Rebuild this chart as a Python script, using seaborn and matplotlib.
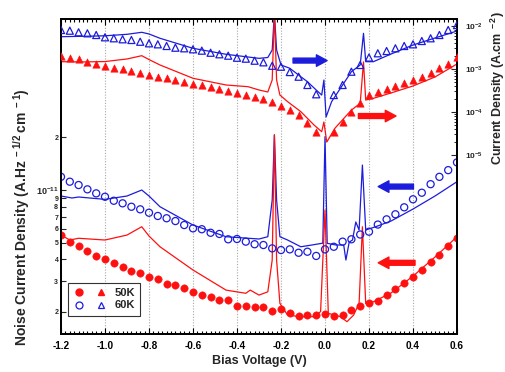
import numpy as np
import pandas as pd
import matplotlib
matplotlib.use("Agg")
import matplotlib.pyplot as plt
import seaborn as sns
from matplotlib.ticker import FixedLocator, NullLocator, FixedFormatter, MultipleLocator, FormatStrFormatter
from matplotlib.legend_handler import HandlerTuple
from matplotlib.lines import Line2D

# ---------------- data ----------------
# marker voltages (noise)
V_noise = [-1.20, -1.16, -1.12, -1.08, -1.04, -1.00, -0.96, -0.92, -0.88, -0.84,
           -0.80, -0.76, -0.72, -0.68, -0.64, -0.60, -0.56, -0.52, -0.48, -0.44,
           -0.40, -0.36, -0.32, -0.28, -0.24, -0.20, -0.16, -0.12, -0.08, -0.04,
           0.00, 0.04, 0.08, 0.12, 0.16, 0.20, 0.24, 0.28, 0.32, 0.36,
           0.40, 0.44, 0.48, 0.52, 0.56, 0.60]
# noise current density, units of 1e-12 A Hz^-1/2 cm^-1
noise_50K = [5.52, 5.06, 4.78, 4.47, 4.19, 4.04, 3.83, 3.62, 3.45, 3.33,
             3.17, 3.08, 2.90, 2.86, 2.75, 2.59, 2.50, 2.44, 2.34, 2.34,
             2.16, 2.16, 2.14, 2.14, 2.03, 2.08, 1.965, 1.90, 1.92, 1.92,
             1.96, 1.90, 1.92, 2.05, 2.16, 2.24, 2.32, 2.50, 2.71, 2.92,
             3.19, 3.48, 3.88, 4.24, 4.78, 5.29]
noise_60K = [11.9, 11.16, 10.68, 10.09, 9.57, 9.15, 8.68, 8.39, 8.02, 7.75,
             7.41, 7.10, 6.89, 6.64, 6.30, 6.03, 5.96, 5.69, 5.60, 5.22,
             5.24, 5.06, 4.89, 4.84, 4.63, 4.53, 4.57, 4.37, 4.43, 4.19,
             4.57, 4.73, 5.06, 5.22, 5.56, 5.77, 6.34, 6.79, 7.26, 7.96,
             8.85, 9.65, 10.8, 11.9, 13.0, 14.4]

# marker voltages (current density)
V_cur = [-1.20, -1.16, -1.12, -1.08, -1.04, -1.00, -0.96, -0.92, -0.88, -0.84,
         -0.80, -0.76, -0.72, -0.68, -0.64, -0.60, -0.56, -0.52, -0.48, -0.44,
         -0.40, -0.36, -0.32, -0.28, -0.24, -0.20, -0.16, -0.12, -0.08, -0.04,
         0.04, 0.08, 0.12, 0.16, 0.20, 0.24, 0.28, 0.32, 0.36, 0.40,
         0.44, 0.48, 0.52, 0.56, 0.60]
# current density, units of 1e-3 A cm^-2
cur_50K = [2.04, 1.83, 1.68, 1.48, 1.29, 1.19, 1.07, 1.00, 0.898, 0.794,
           0.724, 0.652, 0.608, 0.555, 0.507, 0.455, 0.425, 0.381, 0.343, 0.308,
           0.272, 0.248, 0.227, 0.200, 0.168, 0.140, 0.111, 0.085, 0.0546, 0.0348,
           0.0348, 0.0595, 0.102, 0.159, 0.248, 0.297, 0.343, 0.403, 0.465, 0.555,
           0.662, 0.794, 1.04, 1.29, 1.93]
cur_60K = [8.07, 7.78, 7.14, 6.76, 6.18, 5.46, 5.18, 4.91, 4.73, 4.31,
           3.96, 3.75, 3.43, 3.13, 3.03, 2.87, 2.67, 2.39, 2.20, 2.04,
           1.83, 1.74, 1.56, 1.43, 1.19, 1.13, 0.85, 0.662, 0.425, 0.258,
           0.248, 0.425, 0.865, 1.24, 1.85, 2.32, 2.62, 3.03, 3.43, 3.75,
           4.48, 5.18, 6.18, 8.07, 10.5]

# measured curves (lines)
curline_60K_V = [-1.2, -1.1, -1.0, -0.9, -0.833, -0.8, -0.75, -0.6, -0.45, -0.3,
                 -0.26, -0.24, -0.23, -0.22, -0.20, -0.16, -0.12, -0.08, -0.04, -0.015,
                 -0.005, 0.005, 0.03, 0.075, 0.12, 0.16, 0.175, 0.185, 0.22, 0.3,
                 0.4, 0.5, 0.6]
curline_60K = [5.64, 5.76, 5.92, 6.41, 7.14, 6.52, 5.18, 3.03, 2.20, 1.77,
               1.85, 2.77, 20.0, 2.77, 1.24, 1.04, 0.724, 0.507, 0.325, 0.248,
               0.555, 0.0765, 0.174, 0.388, 0.865, 1.24, 6.76, 1.48, 1.48, 2.23,
               3.61, 5.26, 7.65]
curline_50K_V = [-1.2, -1.1, -1.0, -0.9, -0.833, -0.8, -0.75, -0.6, -0.45, -0.35,
                 -0.3, -0.26, -0.24, -0.23, -0.22, -0.205, -0.17, -0.11, -0.05, -0.015,
                 -0.005, 0.008, 0.045, 0.12, 0.16, 0.175, 0.185, 0.22, 0.3, 0.4,
                 0.5, 0.6]
curline_50K = [1.48, 1.46, 1.49, 1.71, 2.04, 1.66, 1.24, 0.608, 0.425, 0.388,
               0.325, 0.292, 0.555, 20.0, 0.555, 0.248, 0.174, 0.102, 0.0499, 0.0348,
               0.0585, 0.020, 0.0418, 0.111, 0.159, 1.46, 0.190, 0.208, 0.277, 0.403,
               0.652, 1.31]
noiseline_60K_V = [-1.2, -1.15, -1.12, -1.0, -0.9, -0.833, -0.8, -0.75, -0.6, -0.45,
                   -0.3, -0.26, -0.24, -0.23, -0.22, -0.205, -0.17, -0.11, -0.06, -0.01,
                   0.0, 0.01, 0.05, 0.085, 0.095, 0.11, 0.125, 0.14, 0.155, 0.17,
                   0.185, 0.23, 0.3, 0.4, 0.5, 0.6]
noiseline_60K = [9.24, 9.0, 9.12, 8.84, 9.24, 10.0, 9.24, 8.02, 6.30, 5.40,
                 5.24, 5.40, 8.76, 20.7, 8.76, 5.40, 5.17, 4.73, 4.84, 4.96,
                 20.2, 4.95, 4.84, 4.84, 3.97, 5.03, 5.17, 6.56, 5.90, 13.9,
                 5.90, 6.16, 6.64, 7.78, 9.24, 11.16]
noiseline_50K_V = [-1.2, -1.16, -1.12, -1.0, -0.9, -0.833, -0.8, -0.75, -0.6, -0.45,
                   -0.36, -0.34, -0.3, -0.26, -0.24, -0.23, -0.22, -0.205, -0.17, -0.11,
                   -0.05, -0.02, 0.0, 0.015, 0.07, 0.1, 0.13, 0.155, 0.17, 0.185,
                   0.22, 0.3, 0.4, 0.5, 0.6]
noiseline_50K = [5.52, 5.17, 5.29, 5.17, 5.52, 6.16, 5.45, 4.73, 3.48, 2.67,
                 2.56, 2.67, 2.50, 2.61, 3.97, 20.7, 3.97, 2.24, 1.92, 1.88,
                 1.88, 2.01, 7.68, 1.965, 1.88, 1.76, 1.92, 2.24, 6.16, 2.24,
                 2.29, 2.57, 3.21, 4.13, 5.40]

x_ticks = [-1.2, -1.0, -0.8, -0.6, -0.4, -0.2, 0.0, 0.2, 0.4, 0.6]
left_ticks = [2e-12, 3e-12, 4e-12, 5e-12, 6e-12, 7e-12, 8e-12, 9e-12, 1e-11, 2e-11]
left_labels = ['2', '3', '4', '5', '6', '7', '8', '9', r'$10^{-11}$', '2']
right_ticks = [1e-5, 1e-4, 1e-3, 1e-2]
right_labels = [r'$10^{-5}$', r'$10^{-4}$', r'$10^{-3}$', r'$10^{-2}$']
legend_labels = ['50K', '60K']

# ---------------- style ----------------
sns.set_style("white")
plt.rcParams['font.family'] = ['Liberation Sans', 'DejaVu Sans']
plt.rcParams['font.weight'] = 'bold'
plt.rcParams['axes.labelweight'] = 'bold'
plt.rcParams['axes.unicode_minus'] = False
plt.rcParams['mathtext.fontset'] = 'custom'
plt.rcParams['mathtext.rm'] = 'Liberation Sans:bold'
plt.rcParams['mathtext.bf'] = 'Liberation Sans:bold'
plt.rcParams['mathtext.it'] = 'Liberation Sans:bold'
plt.rcParams['mathtext.default'] = 'bf'

RED = '#ff1010'
BLUE = '#1c1cdc'

fig = plt.figure(figsize=(5.06, 3.72), dpi=100)
ax = fig.add_axes([61 / 506, 1 - 334 / 372, 396 / 506, 315 / 372])
ax2 = ax.twinx()

e12 = 1e-12
e3 = 1e-3
df_noise = pd.DataFrame({'V': V_noise,
                         'n50': np.array(noise_50K) * e12,
                         'n60': np.array(noise_60K) * e12})
df_cur = pd.DataFrame({'V': V_cur,
                       'j50': np.array(cur_50K) * e3,
                       'j60': np.array(cur_60K) * e3})
df_nl50 = pd.DataFrame({'V': noiseline_50K_V, 'y': np.array(noiseline_50K) * e12})
df_nl60 = pd.DataFrame({'V': noiseline_60K_V, 'y': np.array(noiseline_60K) * e12})
df_jl50 = pd.DataFrame({'V': curline_50K_V, 'y': np.array(curline_50K) * e3})
df_jl60 = pd.DataFrame({'V': curline_60K_V, 'y': np.array(curline_60K) * e3})

# noise (left axis)
sns.lineplot(data=df_nl60, x='V', y='y', ax=ax, color=BLUE, lw=0.9, estimator=None, sort=False)
sns.lineplot(data=df_nl50, x='V', y='y', ax=ax, color=RED, lw=0.9, estimator=None, sort=False)
sns.scatterplot(data=df_noise, x='V', y='n60', ax=ax, marker='o', s=26,
                facecolors='none', edgecolor=BLUE, linewidth=0.9, zorder=3)
sns.scatterplot(data=df_noise, x='V', y='n50', ax=ax, marker='o', s=28,
                color=RED, edgecolor=RED, linewidth=0.4, zorder=3)

# current density (right axis)
sns.lineplot(data=df_jl60, x='V', y='y', ax=ax2, color=BLUE, lw=0.9, estimator=None, sort=False)
sns.lineplot(data=df_jl50, x='V', y='y', ax=ax2, color=RED, lw=0.9, estimator=None, sort=False)
sns.scatterplot(data=df_cur, x='V', y='j60', ax=ax2, marker='^', s=26,
                facecolors='none', edgecolor=BLUE, linewidth=0.9, zorder=3)
sns.scatterplot(data=df_cur, x='V', y='j50', ax=ax2, marker='^', s=28,
                color=RED, edgecolor=RED, linewidth=0.4, zorder=3)

# ---------------- axes ----------------
ax.set_yscale('log')
ax2.set_yscale('log')
ax.set_xlim(-1.2, 0.6)
ax.set_ylim(1.496e-12, 9.55e-11)
ax2.set_ylim(6.87e-10, 1.455e-2)

ax.xaxis.set_major_locator(FixedLocator(x_ticks))
ax.xaxis.set_major_formatter(FormatStrFormatter('%.1f'))
ax.xaxis.set_minor_locator(MultipleLocator(0.02))

ax.yaxis.set_major_locator(FixedLocator(left_ticks))
ax.yaxis.set_major_formatter(FixedFormatter(left_labels))
ax.yaxis.set_minor_locator(NullLocator())

ax2.yaxis.set_major_locator(FixedLocator(right_ticks))
ax2.yaxis.set_major_formatter(FixedFormatter(right_labels))
ax2.yaxis.set_minor_locator(FixedLocator([k * 10.0 ** e for e in (-5, -4, -3) for k in range(2, 10)]))

ax.tick_params(axis='x', which='both', direction='in', top=True, bottom=True, width=0.8,
               labelsize=7.2, pad=5, colors='black')
ax.tick_params(axis='x', which='major', length=4)
ax.tick_params(axis='x', which='minor', length=2)
ax.tick_params(axis='y', which='major', direction='in', left=True, right=False, length=3.5,
               width=0.8, labelsize=5, pad=2)
for lab in ax.get_yticklabels():
    if '10' in lab.get_text():
        lab.set_fontsize(6.5)
ax2.tick_params(axis='y', which='major', direction='in', right=True, length=4, width=0.8,
                labelsize=6, pad=6)
ax2.tick_params(axis='y', which='minor', direction='in', right=True, length=2, width=0.7)

ax.grid(False)
ax2.grid(False)
ax.xaxis.grid(True, which='major', color='#a8a8a8', linestyle=(0, (1, 1.5)), lw=0.8)

for a in (ax, ax2):
    for sp in a.spines.values():
        sp.set_linewidth(1.3)
        sp.set_color('black')
        sp.set_visible(True)

ax.set_xlabel('Bias Voltage (V)', fontsize=9, labelpad=3)
ax.set_ylabel(r'Noise Current Density (A.Hz$^{\ -1/2\ }$cm$^{\ -1}$)', fontsize=10)
ax.yaxis.set_label_coords(-0.072, 0.37)
ax2.set_ylabel(r'Current Density (A.cm$^{\ -2}$)', fontsize=9)
ax2.yaxis.set_label_coords(1.08, 0.78)

# legend
h50 = (Line2D([], [], ls='', marker='o', ms=5, color=RED),
       Line2D([], [], ls='', marker='^', ms=5, color=RED))
h60 = (Line2D([], [], ls='', marker='o', ms=5, mfc='none', mec=BLUE, mew=0.9),
       Line2D([], [], ls='', marker='^', ms=5, mfc='none', mec=BLUE, mew=0.9))
leg = ax.legend([h50, h60], legend_labels, handler_map={tuple: HandlerTuple(ndivide=None, pad=1.0)},
                loc='lower left', bbox_to_anchor=(0.017, 0.057), borderaxespad=0,
                frameon=True, fancybox=False, edgecolor='black', fontsize=8,
                handlelength=3.0, handletextpad=0.7, borderpad=0.5, labelspacing=0.2)
leg.get_frame().set_linewidth(0.8)
leg.set_zorder(10)

# arrows (axes fraction)
arrows = [((0.586, 0.868), (0.672, 0.868), BLUE),
          ((0.751, 0.692), (0.846, 0.692), RED),
          ((0.890, 0.468), (0.801, 0.468), BLUE),
          ((0.894, 0.226), (0.801, 0.226), RED)]
for tail, tip, c in arrows:
    ax2.annotate('', xy=tip, xytext=tail, xycoords='axes fraction', textcoords='axes fraction',
                 arrowprops=dict(arrowstyle='simple,head_width=0.75,head_length=0.7,tail_width=0.32',
                                 color=c, mutation_scale=11, shrinkA=0, shrinkB=0))

fig.savefig('out.png', dpi=100)
